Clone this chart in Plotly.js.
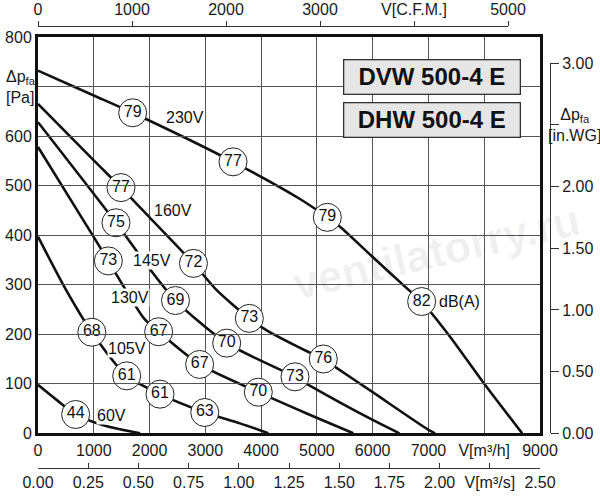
<!DOCTYPE html>
<html>
<head>
<meta charset="utf-8">
<script src="https://cdn.plot.ly/plotly-3.0.1.min.js"></script>
<style>
  html, body { margin: 0; padding: 0; background: #fff; }
  #chart { width: 600px; height: 500px; }
</style>
</head>
<body>
<div id="chart"></div>
<script>
// fan curves, volume flow V [m3/h] against static pressure dp_fa [Pa]
const flow230 = [0, 1000, 1697, 3496, 4697, 5187, 5414, 6000, 6609, 6878, 7354, 8000, 8680];
const pres230 = [732, 682, 647, 548, 473, 436, 417, 356, 293, 266, 200, 100, 0];
const flow160 = [0, 1000, 1488, 2000, 2787, 3203, 3789, 4100, 4907, 5115, 5325, 6000, 7000, 7120];
const pres160 = [665, 551, 496, 436, 343, 289, 232, 208, 161, 150, 134, 83, 7, 0];
const flow145 = [0, 1398, 1996, 2465, 3383, 4607, 4817, 6000, 6480];
const pres145 = [628, 425, 333, 268, 182, 114, 100, 27, 0];
const flow130 = [0, 1000, 1261, 1900, 2163, 2898, 3950, 4817, 5653];
const pres130 = [578, 396, 348, 232, 205, 139, 83, 40, 0];
const flow105 = [0, 500, 965, 1590, 2187, 2990, 3621, 4129];
const pres105 = [397, 290, 204, 116, 79, 42, 20, 0];
const flow60 = [0, 350, 675, 1200, 1830];
const pres60 = [98, 66, 38, 15, 0];

// sound level circles dB(A)
const dbFlow  = [1697, 3496, 5187, 6878, 1488, 2787, 3789, 5115, 1398, 2465, 3383, 4607, 1261, 2163, 2898, 3950, 965, 1590, 2187, 2990, 675];
const dbPres  = [647, 548, 436, 266, 496, 343, 232, 150, 425, 268, 182, 114, 348, 205, 139, 83, 204, 116, 79, 42, 38];
const dbLevel = [79, 77, 79, 82, 77, 72, 73, 76, 75, 69, 70, 73, 73, 67, 67, 70, 68, 61, 61, 63, 44];

// voltage labels
const speedNames = ['230V', '160V', '145V', '130V', '105V', '60V'];
const speedFlow  = [2635, 2417, 2041, 1653, 1587, 1318];
const speedPres  = [638, 449, 348, 274, 172, 35];

const modelNames = ['DVW 500-4 E', 'DHW 500-4 E'];

// ticks
const flowTicks = [0, 1000, 2000, 3000, 4000, 5000, 6000, 7000, 8000, 9000];
const flowTickText = ['0', '1000', '2000', '3000', '4000', '5000', '6000', '7000', 'V[m³/h]', '9000'];
const presTicks = [0, 100, 200, 300, 400, 500, 600, 700, 800];
const presTickText = ['0', '100', '200', '300', '400', '500', '600', '', '800'];
const cfmTicks = [0, 1000, 2000, 3000, 4000, 5000];
const cfmTickText = ['0', '1000', '2000', '3000', 'V[C.F.M.]', '5000'];
const m3sTicks = [0, 0.25, 0.5, 0.75, 1, 1.25, 1.5, 1.75, 2, 2.25, 2.5];
const m3sTickText = ['0.00', '0.25', '0.50', '0.75', '1.00', '1.25', '1.50', '1.75', '2.00', 'V[m³/s]', '2.50'];
const wgTicks = [0, 0.5, 1, 1.5, 2, 2.5, 3];
const wgTickText = ['0.00', '0.50', '1.00', '1.50', '2.00', '', '3.00'];

const PA_PER_INWG = 249.089;
const M3H_PER_CFM = 1.699;

const curves = [
    [flow230, pres230], [flow160, pres160], [flow145, pres145],
    [flow130, pres130], [flow105, pres105], [flow60, pres60]
];

const traces = curves.map(([x, y]) => ({
    x: x, y: y, type: 'scatter', mode: 'lines', hoverinfo: 'skip',
    xaxis: 'x', yaxis: 'y',
    line: { color: '#111', width: 2.6, shape: 'spline', smoothing: 0.7 }
}));

traces.push({
    x: dbFlow, y: dbPres, type: 'scatter', mode: 'markers+text',
    xaxis: 'x', yaxis: 'y',
    text: dbLevel.map(String), textposition: 'middle center',
    textfont: { size: 16, color: '#111' },
    marker: { size: 28, color: '#fff', line: { color: '#222', width: 1 } },
    cliponaxis: false, hoverinfo: 'skip'
});

// the 230V curve again in C.F.M. and in m3/s / in.WG, invisible, so the unit axes get drawn
traces.push({
    x: flow230.map(q => q / M3H_PER_CFM), y: pres230, xaxis: 'x2', yaxis: 'y',
    type: 'scatter', mode: 'lines', line: { width: 0, color: 'rgba(0,0,0,0)' }, hoverinfo: 'skip'
});
traces.push({
    x: flow230.map(q => q / 3600), y: pres230.map(p => p / PA_PER_INWG), xaxis: 'x3', yaxis: 'y2',
    type: 'scatter', mode: 'lines', line: { width: 0, color: 'rgba(0,0,0,0)' }, hoverinfo: 'skip'
});

// plot area in paper fractions (paper = 512 x 442 px)
const xMainEnd = 502 / 512;
const yMain = [34.7 / 442, 431 / 442];
const wgTop = yMain[0] + (3 * PA_PER_INWG / 800) * (yMain[1] - yMain[0]);

const tickFont = { size: 16, color: '#1a1a1a' };
const sideAxis = {
    showline: true, linecolor: '#333', linewidth: 1, tickcolor: '#333', tickwidth: 1,
    showgrid: false, zeroline: false, tickfont: tickFont, fixedrange: true
};

// labels on the chart sit on a white patch that hides the lines behind them
const annotations = speedNames.map((t, i) => ({
    x: speedFlow[i], y: speedPres[i], xref: 'x', yref: 'y', text: t,
    xanchor: 'center', yanchor: 'middle', bgcolor: '#fff', borderpad: 0,
    showarrow: false, font: { size: 16, color: '#111' }
}));

annotations.push({
    x: 7565, y: 266, xref: 'x', yref: 'y', text: 'dB(A)',
    xanchor: 'center', yanchor: 'middle', bgcolor: '#fff', borderpad: 0,
    showarrow: false, font: { size: 16, color: '#111' }
});

modelNames.forEach((t, i) => {
    annotations.push({
        x: 394 / 512, y: [391.3, 347.7][i] / 442, xref: 'paper', yref: 'paper',
        xanchor: 'center', yanchor: 'middle',
        text: '<b>' + t + '</b>', showarrow: false, width: 175, height: 33,
        bgcolor: '#e6e6e6', bordercolor: '#333', borderwidth: 1.3, borderpad: 0,
        font: { size: 24, color: '#111' }
    });
});

annotations.push({
    x: -34 / 512, xanchor: 'left', xref: 'paper', y: 700, yref: 'y', yanchor: 'middle',
    text: 'Δp<sub>fa</sub><br>[Pa]', align: 'left', showarrow: false,
    font: { size: 16, color: '#1a1a1a' }
});
annotations.push({
    x: 536 / 512, xanchor: 'center', xref: 'paper', y: 2.5, yref: 'y2', yanchor: 'middle',
    text: 'Δp<sub>fa</sub><br>[in.WG]', align: 'center', showarrow: false,
    font: { size: 16, color: '#1a1a1a' }
});

// watermark
annotations.push({
    x: 398 / 512, y: 217 / 442, xref: 'paper', yref: 'paper', text: 'ventilatorry.ru',
    xanchor: 'center', yanchor: 'middle', textangle: -13, showarrow: false,
    font: { size: 44, weight: 700, color: 'rgba(0,0,0,0.06)' }
});

const layout = {
    width: 600, height: 500,
    margin: { l: 38, r: 50, t: 26, b: 32 },
    paper_bgcolor: '#fff', plot_bgcolor: 'rgba(0,0,0,0)',
    font: { family: 'Liberation Sans, Arial, sans-serif', size: 16, color: '#1a1a1a' },
    showlegend: false,
    xaxis: {
        domain: [0, xMainEnd], range: [0, 9000], anchor: 'y',
        tickvals: flowTicks, ticktext: flowTickText, ticks: '', tickfont: tickFont,
        showgrid: true, gridcolor: '#555', gridwidth: 1, zeroline: false,
        showline: true, mirror: true, linecolor: '#111', linewidth: 3, fixedrange: true
    },
    yaxis: {
        domain: yMain, range: [0, 800], anchor: 'x',
        tickvals: presTicks, ticktext: presTickText, ticks: '', tickfont: tickFont,
        showgrid: true, gridcolor: '#555', gridwidth: 1, zeroline: false,
        showline: true, mirror: true, linecolor: '#111', linewidth: 3, fixedrange: true
    },
    xaxis2: {
        ...sideAxis, anchor: 'free', position: 1, side: 'top',
        domain: [0, 470 / 512], range: [0, 5000],
        tickvals: cfmTicks, ticktext: cfmTickText, ticks: 'outside', ticklen: 5
    },
    xaxis3: {
        ...sideAxis, anchor: 'free', position: 0, side: 'bottom',
        domain: [0, xMainEnd], range: [0, 2.5],
        tickvals: m3sTicks, ticktext: m3sTickText, ticks: 'inside', ticklen: 5
    },
    yaxis2: {
        ...sideAxis, anchor: 'free', position: 1, side: 'right',
        domain: [yMain[0], wgTop], range: [0, 3],
        tickvals: wgTicks, ticktext: wgTickText, ticks: 'outside', ticklen: 8
    },
    annotations: annotations
};

Plotly.newPlot('chart', traces, layout, { displayModeBar: false, staticPlot: true });
</script>
</body>
</html>
